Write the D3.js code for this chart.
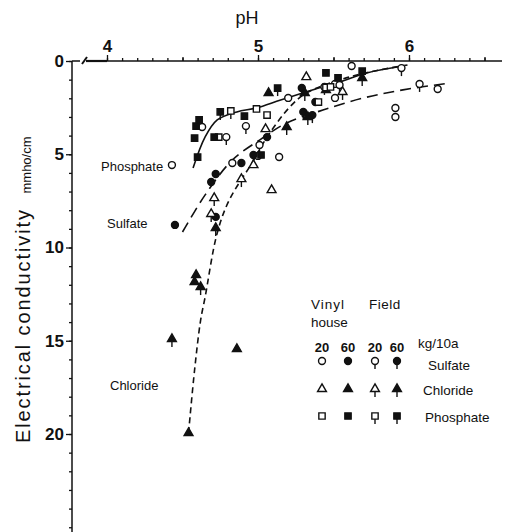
<!DOCTYPE html>
<html lang="en">
<head>
    <meta charset="UTF-8">
    <title>EC vs pH</title>
    <script src="https://d3js.org/d3.v7.min.js"></script>
    <style>
        body {
            margin: 0;
            padding: 0;
            background: #fff;
        }

        svg {
            display: block;
            font-family: "Liberation Sans", Arial, sans-serif;
        }
    </style>
</head>
<body>
<svg id="chart" width="508" height="532"></svg>
<script>
    // axis ticks
    var phMajor = [4, 5, 6];
    var ecMajor = [0, 5, 10, 15, 20];

    // points: [pH, EC mmho/cm]
    var sulfateVinyl20 = [[4.63, 3.54], [5.20, 1.98], [5.51, 1.23], [5.51, 1.98], [5.62, 0.27], [4.83, 5.47],
        [5.00, 5.09], [5.14, 5.15], [4.43, 5.58], [6.19, 1.50], [5.91, 2.52], [5.91, 3.00]];
    var sulfateVinyl60 = [[5.06, 4.08], [4.89, 5.47], [4.72, 6.06], [4.69, 6.49], [4.72, 8.36], [4.45, 8.79], [5.38, 2.20]];
    var sulfateField20 = [[4.79, 4.08], [4.92, 3.49], [5.01, 4.50], [5.44, 1.39], [5.54, 1.29], [5.95, 0.38], [6.07, 1.23]];
    var sulfateField60 = [[4.97, 5.04], [5.29, 1.45], [5.30, 2.73], [5.36, 2.90]];

    var chlorideVinyl20 = [[5.32, 0.86], [4.97, 5.58], [5.09, 6.92], [5.05, 3.65]];
    var chlorideVinyl60 = [[5.07, 1.72], [4.59, 11.47], [4.58, 11.85], [4.86, 15.44], [4.54, 19.95], [5.45, 1.55]];
    var chlorideField20 = [[5.56, 1.66], [4.89, 6.33], [4.71, 7.35], [4.69, 8.20]];
    var chlorideField60 = [[5.31, 1.72], [5.69, 0.91], [5.33, 3.00], [5.19, 3.54], [4.72, 8.95], [4.43, 14.91], [4.62, 12.12]];

    var phosphateVinyl20 = [[4.99, 2.57], [5.06, 2.90], [4.74, 4.08], [5.45, 1.42], [5.40, 2.20], [5.48, 1.39]];
    var phosphateVinyl60 = [[4.91, 2.95], [4.59, 3.49], [4.61, 3.16], [4.58, 4.13], [4.71, 4.08], [5.45, 0.64],
        [5.53, 0.91], [5.69, 0.54], [4.60, 5.15], [5.02, 5.04]];
    var phosphateField20 = [[4.82, 2.68]];
    var phosphateField60 = [[4.75, 2.73], [5.13, 1.45]];

    // fitted curves
    var phosphateCurve = [[4.57, 5.74], [4.65, 4.07], [4.73, 3.16], [4.86, 2.73], [4.99, 2.52], [5.15, 2.09],
        [5.36, 1.55], [5.54, 1.13], [5.72, 0.64], [5.96, 0.27]];
    var sulfateCurve = [[4.50, 9.17], [4.65, 7.18], [4.83, 5.31], [5.01, 4.24], [5.19, 3.32], [5.43, 2.63],
        [5.70, 1.98], [5.96, 1.55], [6.27, 1.18]];
    var chlorideCurve = [[4.54, 19.95], [4.58, 16.57], [4.62, 13.9], [4.65, 12.65], [4.73, 9.22], [4.81, 7.45],
        [4.96, 5.47], [5.06, 4.08], [5.21, 2.47], [5.32, 1.72], [5.54, 1.02], [5.74, 0.59], [5.99, 0.21]];

    var svg = d3.select('#chart');
    var ink = '#111';

    var x = d3.scaleLinear().domain([4, 6]).range([107, 409]);
    var y = d3.scaleLinear().domain([0, 20]).range([61, 434]);
    var xMin = x.invert(72), xMax = x.invert(502);
    var yMax = y.invert(532);

    // top axis
    var gx = svg.append('g').attr('transform', 'translate(0,' + y(0) + ')');
    gx.append('g')
        .call(d3.axisTop(x).tickValues(d3.range(40, 66).map(function (v) { return v / 10; }))
            .tickSize(3).tickFormat(''))
        .call(function (g) { g.select('.domain').remove(); });
    gx.append('g')
        .call(d3.axisTop(x).tickValues([4.5, 5.5, 6.5]).tickSize(4).tickFormat(''))
        .call(function (g) { g.select('.domain').remove(); });
    gx.append('g')
        .call(d3.axisTop(x).tickValues(phMajor).tickSize(6).tickPadding(3).tickFormat(d3.format('d')))
        .call(function (g) { g.select('.domain').remove(); });
    gx.selectAll('line').attr('stroke', ink).attr('stroke-width', 1.3);
    gx.selectAll('text').attr('font-size', 17).attr('font-weight', 'bold').attr('fill', ink);
    // axis line with a break mark
    gx.append('line').attr('x1', 72).attr('x2', 80).attr('y1', 0).attr('y2', 0)
        .attr('stroke', ink).attr('stroke-width', 1.5);
    gx.append('line').attr('x1', 82).attr('x2', 87).attr('y1', 3).attr('y2', -4)
        .attr('stroke', ink).attr('stroke-width', 2);
    gx.append('line').attr('x1', 86).attr('x2', x(4)).attr('y1', 0).attr('y2', 0)
        .attr('stroke', ink).attr('stroke-width', 2.2);
    gx.append('line').attr('x1', x(4)).attr('x2', x(xMax)).attr('y1', 0).attr('y2', 0)
        .attr('stroke', ink).attr('stroke-width', 1.3);

    // left axis
    var gy = svg.append('g').attr('transform', 'translate(72,0)');
    gy.append('g')
        .call(d3.axisLeft(y).tickValues(d3.range(0, 26)).tickSize(3).tickFormat(''))
        .call(function (g) { g.select('.domain').remove(); });
    gy.append('g')
        .call(d3.axisLeft(y).tickValues(ecMajor).tickSize(6).tickPadding(2).tickFormat(d3.format('d')))
        .call(function (g) { g.select('.domain').remove(); });
    gy.selectAll('line').attr('stroke', ink).attr('stroke-width', 1.3);
    gy.selectAll('text').attr('font-size', 17).attr('font-weight', 'bold').attr('fill', ink);
    gy.append('line').attr('x1', 0).attr('x2', 0).attr('y1', y(0)).attr('y2', y(yMax))
        .attr('stroke', ink).attr('stroke-width', 1.5);

    // axis titles
    svg.append('text').attr('x', 247).attr('y', 24).attr('text-anchor', 'middle')
        .attr('font-size', 18).attr('fill', ink).text('pH');
    svg.append('text').attr('transform', 'translate(30,443) rotate(-90)')
        .attr('font-size', 20).attr('letter-spacing', 1.9).attr('fill', ink).text('Electrical conductivity');
    svg.append('text').attr('transform', 'translate(31,165) rotate(-90)').attr('text-anchor', 'middle')
        .attr('font-size', 13).attr('fill', ink).text('mmho/cm');

    // curves
    var line = d3.line()
        .x(function (d) { return x(d[0]); })
        .y(function (d) { return y(d[1]); })
        .curve(d3.curveCatmullRom.alpha(0.5));
    var curves = [
        {data: phosphateCurve, dash: null},
        {data: sulfateCurve, dash: '11,6'},
        {data: chlorideCurve, dash: '6,4'}
    ];
    svg.append('g').selectAll('path').data(curves).join('path')
        .attr('d', function (c) { return line(c.data); })
        .attr('fill', 'none')
        .attr('stroke', ink)
        .attr('stroke-width', 1.6)
        .attr('stroke-dasharray', function (c) { return c.dash; });

    // markers
    function shapePath(kind) {
        if (kind === 'circle') return d3.symbol(d3.symbolCircle, 38)();
        if (kind === 'triangle') return d3.symbol(d3.symbolTriangle, 34)();
        return d3.symbol(d3.symbolSquare, 40)();
    }

    function drawMarker(g, kind, filled, field) {
        if (field) {
            g.append('line').attr('x1', 0).attr('x2', 0).attr('y1', 2).attr('y2', 8)
                .attr('stroke', ink).attr('stroke-width', 1.4);
        }
        g.append('path').attr('d', shapePath(kind))
            .attr('fill', filled ? ink : '#fff')
            .attr('stroke', ink)
            .attr('stroke-width', 1.4);
    }

    var groups = [
        {data: sulfateVinyl20, kind: 'circle', filled: false, field: false},
        {data: sulfateVinyl60, kind: 'circle', filled: true, field: false},
        {data: sulfateField20, kind: 'circle', filled: false, field: true},
        {data: sulfateField60, kind: 'circle', filled: true, field: true},
        {data: chlorideVinyl20, kind: 'triangle', filled: false, field: false},
        {data: chlorideVinyl60, kind: 'triangle', filled: true, field: false},
        {data: chlorideField20, kind: 'triangle', filled: false, field: true},
        {data: chlorideField60, kind: 'triangle', filled: true, field: true},
        {data: phosphateVinyl20, kind: 'square', filled: false, field: false},
        {data: phosphateVinyl60, kind: 'square', filled: true, field: false},
        {data: phosphateField20, kind: 'square', filled: false, field: true},
        {data: phosphateField60, kind: 'square', filled: true, field: true}
    ];
    var pts = svg.append('g');
    groups.forEach(function (grp) {
        grp.data.forEach(function (d) {
            var g = pts.append('g').attr('transform', 'translate(' + x(d[0]) + ',' + y(d[1]) + ')');
            drawMarker(g, grp.kind, grp.filled, grp.field);
        });
    });

    // curve labels
    var curveLabels = [
        {text: 'Phosphate', x: 101, y: 171},
        {text: 'Sulfate', x: 107, y: 228},
        {text: 'Chloride', x: 110, y: 390}
    ];
    svg.append('g').selectAll('text').data(curveLabels).join('text')
        .attr('x', function (d) { return d.x; })
        .attr('y', function (d) { return d.y; })
        .attr('font-size', 13).attr('fill', ink)
        .text(function (d) { return d.text; });

    // legend
    var leg = svg.append('g').attr('fill', ink).attr('font-size', 13.5);
    leg.append('text').attr('x', 311).attr('y', 309).attr('letter-spacing', 1).text('Vinyl');
    leg.append('text').attr('x', 369).attr('y', 309).attr('letter-spacing', 0.5).text('Field');
    leg.append('text').attr('x', 311).attr('y', 327).text('house');
    leg.append('text').attr('x', 418).attr('y', 348).text('kg/10a');
    var legCols = [{rate: '20', field: false, filled: false}, {rate: '60', field: false, filled: true},
        {rate: '20', field: true, filled: false}, {rate: '60', field: true, filled: true}];
    var legX = [322, 348, 375, 397];
    leg.selectAll('text.rate').data(legCols).join('text').attr('class', 'rate')
        .attr('x', function (d, i) { return legX[i]; })
        .attr('y', 352).attr('text-anchor', 'middle').attr('font-weight', 'bold').attr('font-size', 13)
        .text(function (d) { return d.rate; });
    var legRows = [
        {label: 'Sulfate', kind: 'circle', y: 361, lx: 428, ly: 370},
        {label: 'Chloride', kind: 'triangle', y: 389, lx: 423, ly: 395},
        {label: 'Phosphate', kind: 'square', y: 416, lx: 425, ly: 422}
    ];
    legRows.forEach(function (r) {
        legCols.forEach(function (c, i) {
            var g = leg.append('g').attr('transform', 'translate(' + legX[i] + ',' + r.y + ')');
            drawMarker(g, r.kind, c.filled, c.field);
        });
        leg.append('text').attr('x', r.lx).attr('y', r.ly).text(r.label);
    });
</script>
</body>
</html>
